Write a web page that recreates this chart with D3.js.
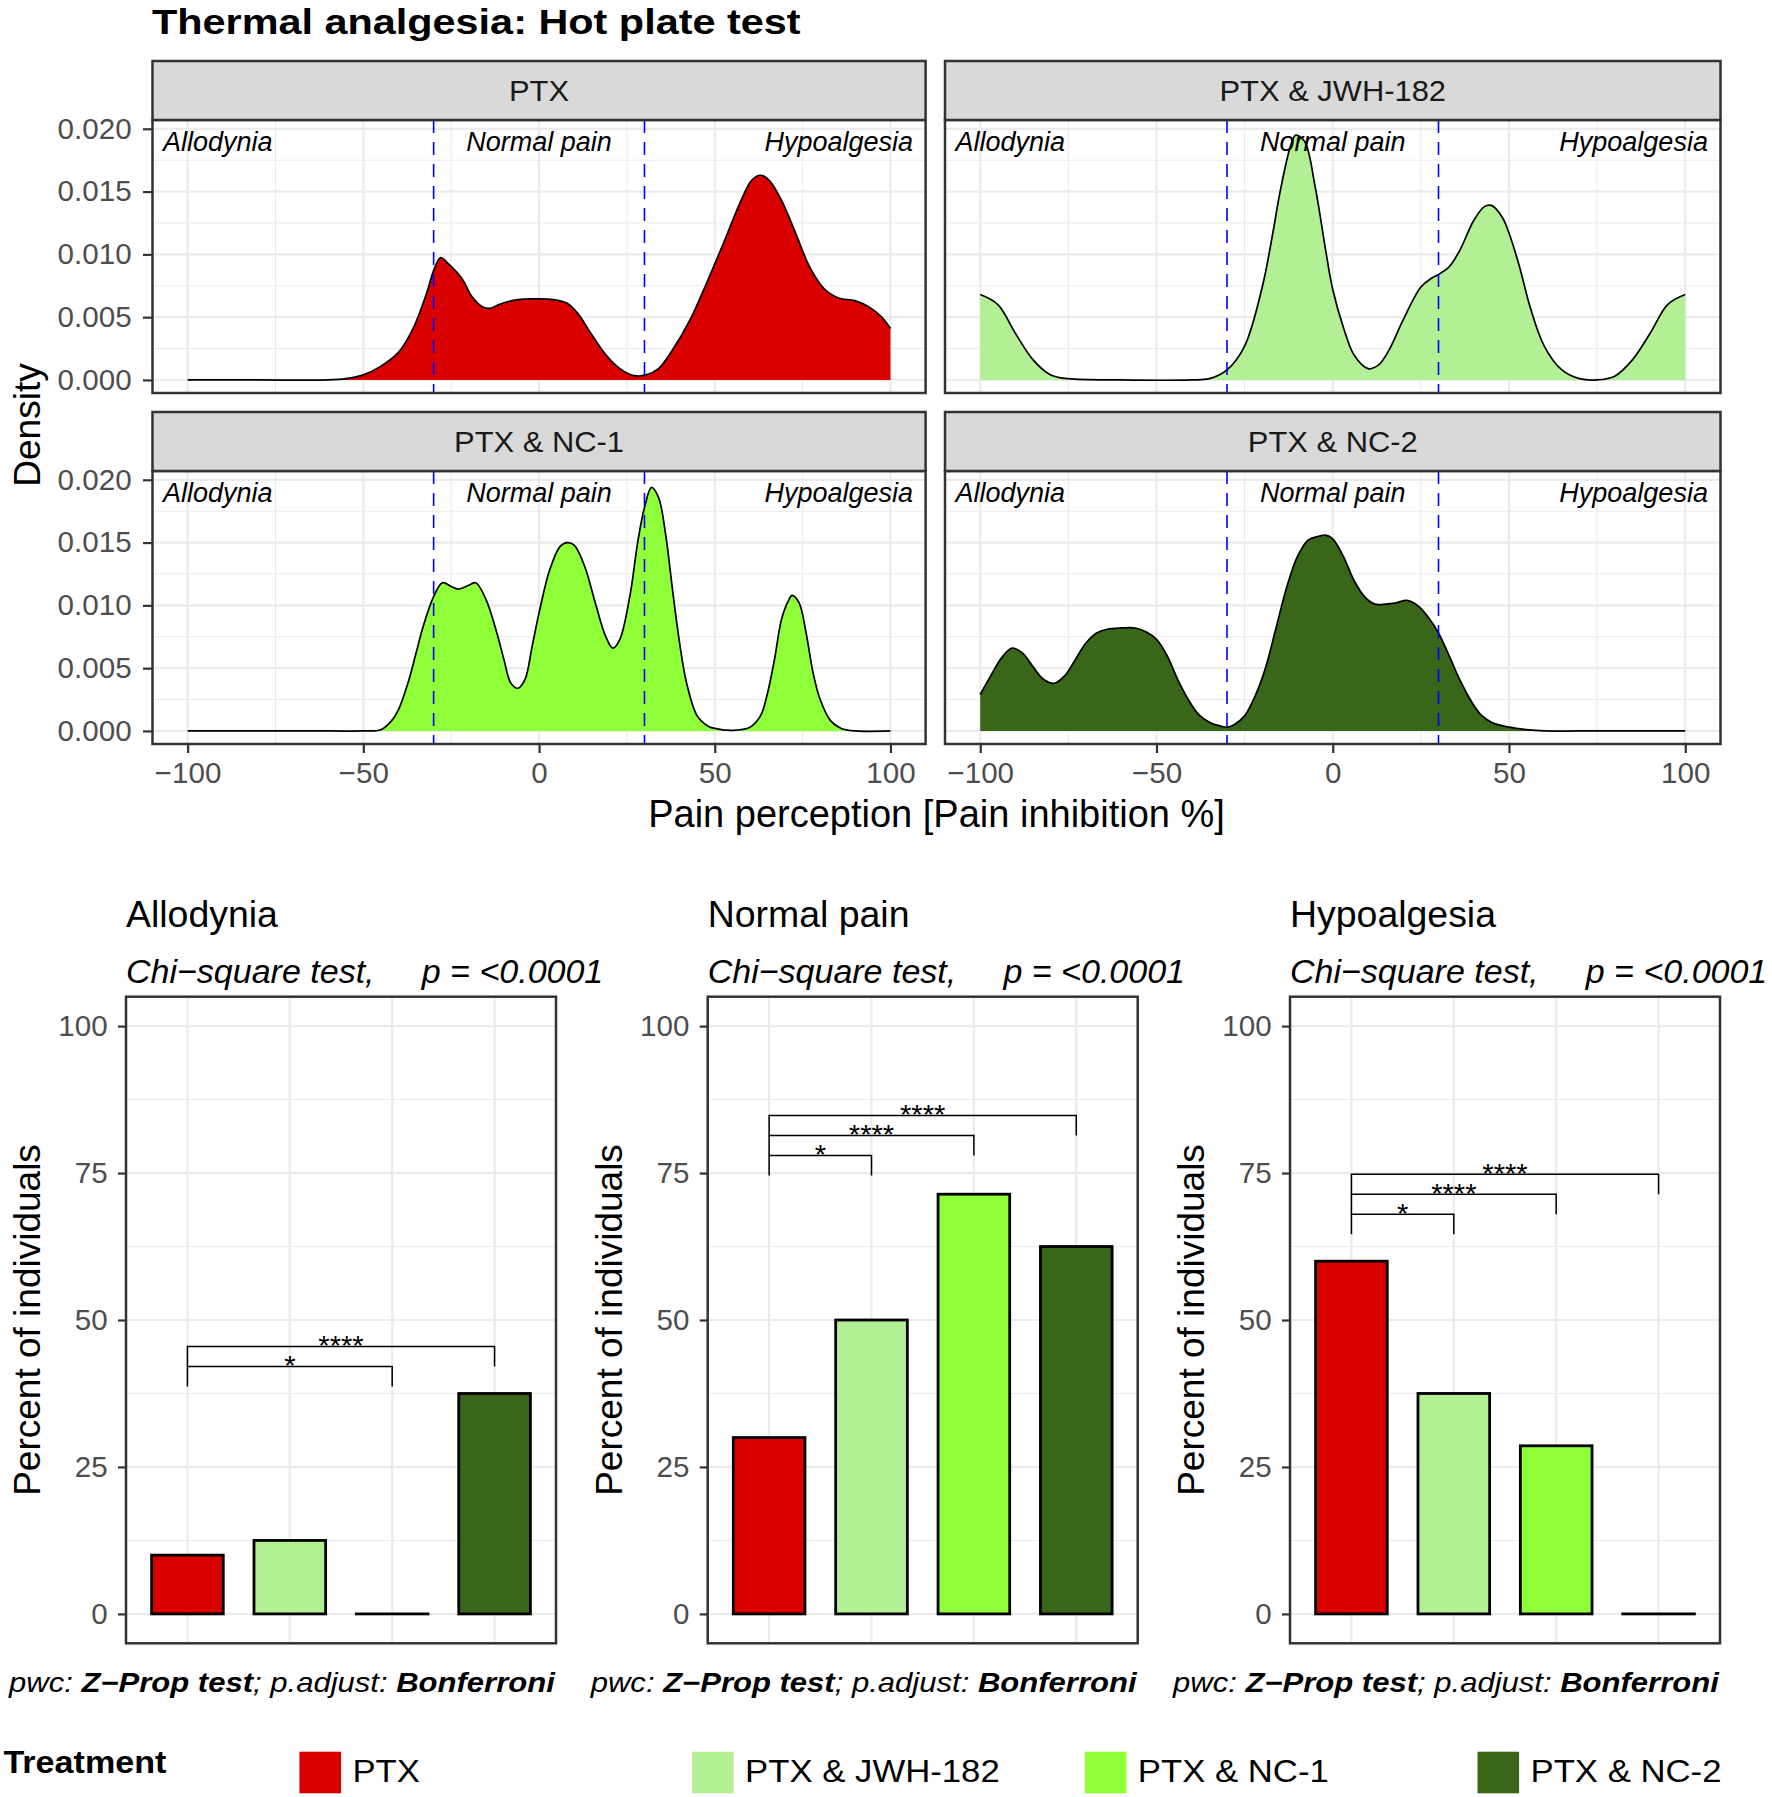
<!DOCTYPE html>
<html>
<head>
<meta charset="utf-8">
<script src="https://cdn.jsdelivr.net/npm/d3@7"></script>
<style>
  body { margin: 0; background: #fff; }
  text { font-family: "Liberation Sans", Arial, sans-serif; }
</style>
</head>
<body>
<div id="chart"></div>
<script>
// ---- data ----
const groups = ["PTX", "PTX & JWH-182", "PTX & NC-1", "PTX & NC-2"]
const groupColors = ["#d90000", "#b2ef95", "#8fff3a", "#3a6619"]
const cutoffs = [-30, 30]
const zoneLabels = ["Allodynia", "Normal pain", "Hypoalgesia"]
const densXTicks = [-100, -50, 0, 50, 100]
const densYTicks = [0, 0.005, 0.010, 0.015, 0.020]

// density curves (density x 1000)
const ptxX = [-100, -80, -60, -55, -50, -45, -40, -36, -32, -30, -28, -26, -22, -19, -16, -14, -11, -6, -1, 4, 8, 11, 15, 19, 23, 27, 30.5, 34, 38, 43, 47.5, 52.5, 57.5, 60.5, 63, 65.5, 69, 73, 77, 81, 85, 90, 94, 97.5, 100]
const ptxD = [0, 0, 0, 0.1, 0.4, 1.1, 2.2, 4.0, 6.9, 8.7, 9.75, 9.3, 8.1, 6.6, 5.8, 5.7, 6.05, 6.4, 6.45, 6.4, 6.1, 5.3, 3.6, 2.0, 0.9, 0.35, 0.4, 0.9, 2.4, 4.8, 7.6, 10.9, 14.3, 15.9, 16.3, 15.9, 14.3, 11.7, 9.0, 7.3, 6.55, 6.3, 5.8, 5.0, 4.1]
const jwhX = [-100, -95, -90, -85, -80, -75, -60, -40, -35, -30, -25, -20, -17, -15, -12, -10.5, -8, -5, -2, 0, 3, 6, 10, 13, 16, 20, 25, 28, 30, 33, 36, 40, 43, 45, 48, 50, 53, 56, 60, 65, 70, 75, 80, 85, 90, 95, 100]
const jwhD = [6.8, 6.0, 3.7, 1.6, 0.4, 0.1, 0, 0, 0.1, 0.8, 2.7, 7.4, 11.7, 14.9, 18.6, 19.5, 19.0, 15.4, 10.3, 7.2, 4.2, 2.0, 0.9, 1.2, 2.4, 4.8, 7.4, 8.1, 8.4, 9.0, 10.3, 12.7, 13.8, 13.9, 13.0, 11.7, 9.0, 5.8, 2.7, 0.8, 0.1, 0, 0.3, 1.6, 3.7, 6.0, 6.8]
const nc1X = [-100, -60, -50, -45, -42, -40, -37, -35, -33, -30, -27.5, -25, -23, -20, -18, -15, -12, -10, -8, -6, -4, -2, 0, 3, 6, 8, 10, 13, 16, 19, 21, 23, 26, 28, 30, 32, 34, 36, 38, 40, 42, 45, 48, 50, 55, 60, 63, 65, 67, 69, 71, 72, 74, 76, 78, 80, 83, 86, 90, 100]
const nc1D = [0, 0, 0, 0.1, 0.8, 1.7, 4.1, 6.2, 8.3, 10.7, 11.8, 11.5, 11.3, 11.6, 11.8, 10.4, 7.8, 5.7, 3.8, 3.4, 4.1, 6.7, 9.4, 12.8, 14.7, 15.0, 14.8, 13.1, 10.2, 7.5, 6.6, 7.3, 11.0, 14.9, 17.8, 19.4, 18.6, 15.7, 11.2, 7.0, 3.8, 1.2, 0.4, 0.2, 0.05, 0.3, 1.2, 3.0, 5.7, 8.9, 10.4, 10.8, 10.2, 7.8, 4.6, 2.5, 0.8, 0.2, 0, 0]
const nc2X = [-100, -97, -94, -91, -88, -85, -82, -79, -76, -73, -70, -67, -64, -60, -56, -53, -50, -47, -44, -41, -38, -35, -32, -30, -28, -25, -22, -19, -16, -13, -10, -7, -4, -2, 0, 3, 6, 9, 12, 15, 18, 21, 24, 27, 30, 33, 36, 39, 42, 45, 50, 55, 60, 70, 100]
const nc2D = [2.9, 4.4, 5.8, 6.6, 6.2, 5.1, 4.1, 3.8, 4.4, 5.7, 7.0, 7.8, 8.1, 8.2, 8.2, 7.9, 7.3, 6.0, 4.1, 2.5, 1.3, 0.7, 0.4, 0.3, 0.5, 1.2, 2.8, 5.1, 8.3, 11.5, 13.9, 15.2, 15.5, 15.6, 15.3, 13.9, 12.0, 10.7, 10.1, 10.1, 10.2, 10.4, 10.0, 9.1, 7.8, 6.0, 4.1, 2.5, 1.3, 0.7, 0.3, 0.1, 0, 0, 0]

// percent of individuals per zone, in group order
const allodyniaPct = [10, 12.5, 0, 37.5]
const normalPct = [30, 50, 71.4, 62.5]
const hypoalgesiaPct = [60, 37.5, 28.6, 0]
const barYTicks = [0, 25, 50, 75, 100]

// pairwise comparisons against PTX: [other group, bracket height, label]
const allodyniaSig = [["PTX & NC-1", 42.1, "*"], ["PTX & NC-2", 45.5, "****"]]
const normalSig = [["PTX & JWH-182", 78.0, "*"], ["PTX & NC-1", 81.4, "****"], ["PTX & NC-2", 84.8, "****"]]
const hypoalgesiaSig = [["PTX & JWH-182", 68.0, "*"], ["PTX & NC-1", 71.4, "****"], ["PTX & NC-2", 74.8, "****"]]
const tipLength = 3.4

// ---- drawing ----
const W = 1772, H = 1797
const GRID = '#ebebeb', BORDER = '#333333', TICKTXT = '#4d4d4d'

const svg = d3.select('#chart')
    .append('svg')
    .attr('width', W)
    .attr('height', H)
    .style('background', '#fff')

function label(sel, x, y, str, size, opt = {}) {
    const t = sel.append('text')
        .attr('transform', `translate(${x},${y}) scale(${opt.sx || 1},1)${opt.rotate ? ' rotate(-90)' : ''}`)
        .attr('font-size', size)
        .attr('text-anchor', opt.anchor || 'start')
        .attr('fill', opt.fill || '#000')
        .style('white-space', 'pre')
        .text(str)
    if (opt.weight) t.attr('font-weight', opt.weight)
    if (opt.italic) t.attr('font-style', 'italic')
    return t
}

function styleAxis(a, size, sx) {
    a.select('.domain').remove()
    a.selectAll('.tick line').attr('stroke', BORDER).attr('stroke-width', 2.2)
    a.selectAll('.tick text')
        .attr('fill', TICKTXT)
        .attr('font-size', size)
        .attr('font-family', '"Liberation Sans", Arial, sans-serif')
        .attr('transform', `scale(${sx},1)`)
}

const midpoints = (ticks) => d3.pairs(ticks).map(([a, b]) => (a + b) / 2)

label(svg, 152, 34, 'Thermal analgesia: Hot plate test', 36, { weight: 'bold', sx: 1.15 })

// density facets
const densCols = [[152.5, 925.6], [945, 1720.5]]
const densRows = [[61, 120, 393], [412, 471, 744]]
const densSeries = [[ptxX, ptxD], [jwhX, jwhD], [nc1X, nc1D], [nc2X, nc2D]]

groups.forEach((name, i) => {
    const [x0, x1] = densCols[i % 2]
    const row = Math.floor(i / 2)
    const [s0, p0, p1] = densRows[row]
    const x = d3.scaleLinear().domain([-110, 110]).range([x0, x1])
    const y = d3.scaleLinear().domain([-0.00104, 0.0207]).range([p1, p0])
    const g = svg.append('g')

    // grid
    g.selectAll('.minx').data(midpoints(densXTicks)).enter().append('line')
        .attr('x1', d => x(d)).attr('x2', d => x(d)).attr('y1', p0).attr('y2', p1)
        .attr('stroke', GRID).attr('stroke-width', 1.1)
    g.selectAll('.miny').data(midpoints(densYTicks)).enter().append('line')
        .attr('x1', x0).attr('x2', x1).attr('y1', d => y(d)).attr('y2', d => y(d))
        .attr('stroke', GRID).attr('stroke-width', 1.1)
    g.selectAll('.majx').data(densXTicks).enter().append('line')
        .attr('x1', d => x(d)).attr('x2', d => x(d)).attr('y1', p0).attr('y2', p1)
        .attr('stroke', GRID).attr('stroke-width', 2.2)
    g.selectAll('.majy').data(densYTicks).enter().append('line')
        .attr('x1', x0).attr('x2', x1).attr('y1', d => y(d)).attr('y2', d => y(d))
        .attr('stroke', GRID).attr('stroke-width', 2.2)

    // density
    const [xs, ds] = densSeries[i]
    const pts = xs.map((v, j) => [v, ds[j] / 1000])
    const curve = d3.curveCatmullRom.alpha(0.5)
    const area = d3.area().x(d => x(d[0])).y0(y(0)).y1(d => y(Math.max(d[1], 0))).curve(curve)
    const line = d3.line().x(d => x(d[0])).y(d => y(d[1])).curve(curve)
    g.append('path').attr('d', area(pts)).attr('fill', groupColors[i])
    g.append('path').attr('d', line(pts)).attr('fill', 'none').attr('stroke', '#000').attr('stroke-width', 1.7)

    // zone cut-offs
    g.selectAll('.cut').data(cutoffs).enter().append('line')
        .attr('x1', d => x(d)).attr('x2', d => x(d)).attr('y1', p0).attr('y2', p1)
        .attr('stroke', '#0000ff').attr('stroke-width', 1.6).attr('stroke-dasharray', '13,9')

    const ly = y(0.019) + 9.6
    label(g, x0 + 10.5, ly, zoneLabels[0], 27, { italic: true, sx: 1.0 })
    label(g, x(0), ly, zoneLabels[1], 27, { italic: true, sx: 1.0, anchor: 'middle' })
    label(g, x1 - 12.6, ly, zoneLabels[2], 27, { italic: true, sx: 1.0, anchor: 'end' })

    // border and strip
    g.append('rect').attr('x', x0).attr('y', p0).attr('width', x1 - x0).attr('height', p1 - p0)
        .attr('fill', 'none').attr('stroke', BORDER).attr('stroke-width', 2.5)
    g.append('rect').attr('x', x0).attr('y', s0).attr('width', x1 - x0).attr('height', p0 - s0)
        .attr('fill', '#d9d9d9').attr('stroke', BORDER).attr('stroke-width', 2.5)
    label(g, (x0 + x1) / 2, (s0 + p0) / 2 + 10.8, name, 30, { anchor: 'middle', fill: '#1a1a1a', sx: 1.03 })

    if (i % 2 === 0) {
        g.append('g').attr('transform', `translate(${x0},0)`)
            .call(d3.axisLeft(y).tickValues(densYTicks).tickFormat(d3.format('.3f')).tickSize(9.5).tickPadding(11))
            .call(a => styleAxis(a, 29, 1.02))
    }
    if (row === 1) {
        g.append('g').attr('transform', `translate(0,${p1})`)
            .call(d3.axisBottom(x).tickValues(densXTicks).tickSize(9).tickPadding(9))
            .call(a => styleAxis(a, 29, 1.02))
    }
})

label(svg, 40, 425, 'Density', 37, { rotate: true, anchor: 'middle' })
label(svg, (152.5 + 1720.5) / 2, 827, 'Pain perception [Pain inhibition %]', 38, { anchor: 'middle' })

// bar panels
const zonePct = [allodyniaPct, normalPct, hypoalgesiaPct]
const zoneSig = [allodyniaSig, normalSig, hypoalgesiaSig]
const barLefts = [126, 707.7, 1290]
const barWidth = 430, barTop = 996.7, barBottom = 1643.3

zoneLabels.forEach((zone, k) => {
    const l = barLefts[k], r = l + barWidth
    const x = d3.scalePoint().domain(groups).range([l, r]).padding(0.6)
    const y = d3.scaleLinear().domain([-5, 105]).range([barBottom, barTop])
    const bw = x.step() * 0.7
    const g = svg.append('g')

    label(g, l, 927, zone, 36, { sx: 1.04 })
    label(g, l, 983, 'Chi\u2212square test,     p = <0.0001', 34, { italic: true })

    g.selectAll('.miny').data(midpoints(barYTicks)).enter().append('line')
        .attr('x1', l).attr('x2', r).attr('y1', d => y(d)).attr('y2', d => y(d))
        .attr('stroke', GRID).attr('stroke-width', 1.1)
    g.selectAll('.majy').data(barYTicks).enter().append('line')
        .attr('x1', l).attr('x2', r).attr('y1', d => y(d)).attr('y2', d => y(d))
        .attr('stroke', GRID).attr('stroke-width', 2.2)
    g.selectAll('.majx').data(groups).enter().append('line')
        .attr('x1', d => x(d)).attr('x2', d => x(d)).attr('y1', barTop).attr('y2', barBottom)
        .attr('stroke', GRID).attr('stroke-width', 2.2)

    g.selectAll('.bar').data(zonePct[k]).enter().append('rect')
        .attr('x', (d, j) => x(groups[j]) - bw / 2)
        .attr('width', bw)
        .attr('y', d => y(d))
        .attr('height', d => Math.max(y(0) - y(d), 0.01))
        .attr('fill', (d, j) => groupColors[j])
        .attr('stroke', '#000')
        .attr('stroke-width', 2.8)

    zoneSig[k].forEach(([other, h, star]) => {
        const xa = x(groups[0]), xb = x(other)
        g.append('path')
            .attr('d', `M${xa},${y(h - tipLength)}V${y(h)}H${xb}V${y(h - tipLength)}`)
            .attr('fill', 'none').attr('stroke', '#000').attr('stroke-width', 1.5)
        label(g, (xa + xb) / 2, y(h) + 8.5, star, 27, { anchor: 'middle', sx: 1.08 })
    })

    g.append('rect').attr('x', l).attr('y', barTop).attr('width', barWidth).attr('height', barBottom - barTop)
        .attr('fill', 'none').attr('stroke', BORDER).attr('stroke-width', 2.5)

    g.append('g').attr('transform', `translate(${l},0)`)
        .call(d3.axisLeft(y).tickValues(barYTicks).tickSize(8).tickPadding(10))
        .call(a => styleAxis(a, 29, 1.02))

    label(g, l - 86, (barTop + barBottom) / 2, 'Percent of individuals', 37, { rotate: true, anchor: 'middle' })

    const foot = label(g, l - 117, 1691.7, '', 27, { italic: true, sx: 1.15 })
    foot.append('tspan').text('pwc: ')
    foot.append('tspan').attr('font-weight', 'bold').text('Z\u2212Prop test')
    foot.append('tspan').text('; p.adjust: ')
    foot.append('tspan').attr('font-weight', 'bold').text('Bonferroni')
})

// legend
const legend = svg.append('g')
label(legend, 3.4, 1773.3, 'Treatment', 31, { weight: 'bold', sx: 1.1 })
const items = legend.selectAll('.item').data(groups).enter().append('g')
    .attr('transform', (d, i) => `translate(${299.4 + i * 392.7},1751.7)`)
items.append('rect').attr('width', 41.6).attr('height', 41.6).attr('fill', (d, i) => groupColors[i])
items.each(function (d) {
    label(d3.select(this), 53, 30, d, 31, { sx: 1.12 })
})
</script>
</body>
</html>
